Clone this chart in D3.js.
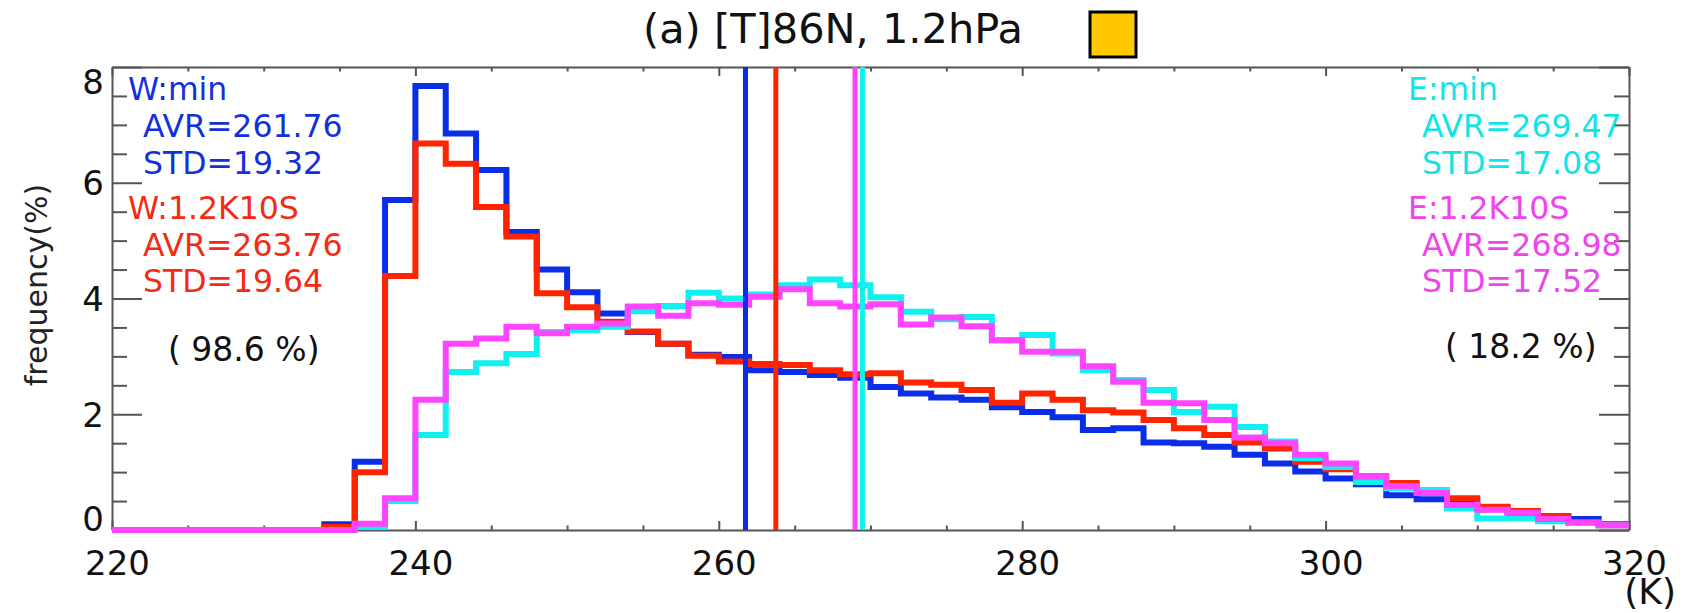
<!DOCTYPE html>
<html>
<head>
<meta charset="utf-8">
<script src="https://cdn.jsdelivr.net/npm/d3@7"></script>
<style>
  body { margin: 0; background: #fff; }
  svg { display: block; font-family: "DejaVu Sans", Verdana, sans-serif; }
</style>
</head>
<body>
<svg id="chart" width="1683" height="613"></svg>
<script>
// bin left edges (K), 2K wide
const binEdges = d3.range(220, 320, 2);

// frequency (%) per bin
const wMin = [0, 0, 0, 0, 0, 0, 0,
    0.10, 1.18, 5.70, 7.67, 6.85, 6.22, 5.15, 4.50, 4.11, 3.74, 3.42, 3.22, 3.03, 2.99,
    2.76, 2.73, 2.68, 2.63, 2.47, 2.36, 2.29, 2.25, 2.12, 2.04, 1.95, 1.73, 1.76, 1.51,
    1.50, 1.44, 1.30, 1.15, 1.01, 0.89, 0.79, 0.60, 0.53, 0.46, 0.36, 0.28, 0.22, 0.19, 0.10];
const w12 = [0, 0, 0, 0, 0, 0, 0,
    0.05, 1.00, 4.39, 6.68, 6.33, 5.58, 5.07, 4.09, 3.85, 3.60, 3.43, 3.22, 3.01, 2.91,
    2.87, 2.85, 2.76, 2.69, 2.71, 2.55, 2.51, 2.42, 2.20, 2.36, 2.25, 2.07, 2.03, 1.90,
    1.76, 1.64, 1.51, 1.41, 1.18, 1.05, 0.93, 0.81, 0.66, 0.55, 0.40, 0.33, 0.24, 0.14, 0.08];
const eMin = [0, 0, 0, 0, 0, 0, 0,
    0, 0.05, 0.50, 1.64, 2.73, 2.88, 3.04, 3.42, 3.45, 3.51, 3.78, 3.87, 4.10, 4.00,
    4.07, 4.23, 4.33, 4.23, 4.02, 3.77, 3.64, 3.68, 3.28, 3.37, 3.05, 2.76, 2.59, 2.42,
    2.04, 2.13, 1.78, 1.53, 1.24, 1.09, 0.83, 0.72, 0.69, 0.37, 0.20, 0.20, 0.15, 0.12, 0.08];
const e12 = [0, 0, 0, 0, 0, 0, 0,
    0, 0.11, 0.55, 2.25, 3.22, 3.31, 3.51, 3.40, 3.51, 3.57, 3.86, 3.70, 3.92, 3.89,
    4.03, 4.16, 3.92, 3.86, 3.90, 3.55, 3.67, 3.52, 3.28, 3.08, 3.08, 2.83, 2.56, 2.20,
    2.19, 1.90, 1.60, 1.50, 1.30, 1.15, 0.92, 0.76, 0.64, 0.43, 0.35, 0.30, 0.19, 0.13, 0.08];

const seriesNames = ["W:min", "W:1.2K10S", "E:min", "E:1.2K10S"];
const averages = [261.76, 263.76, 269.47, 268.98];
const stdevs = [19.32, 19.64, 17.08, 17.52];
const percents = ["( 98.6 %)", "( 18.2 %)"];

const xMajor = [220, 240, 260, 280, 300, 320];
const xMinor = d3.range(225, 320, 5).filter(v => v % 20 !== 0);
const yMajor = [0, 2, 4, 6, 8];
const yMinor = d3.range(0.5, 8, 0.5).filter(v => v % 2 !== 0);

const colors = ["#0a2ee8", "#ff2400", "#10f0f0", "#ff44ff"];
const textColors = ["#1230dc", "#f52a12", "#10e4e4", "#ee44ee"];

const svg = d3.select("#chart");
const plotL = 112, plotR = 1629, plotT = 67, plotB = 530;

const x = d3.scaleLinear().domain([220, 320]).range([plotL, plotR]);
const y = d3.scaleLinear().domain([0, 8]).range([plotB, plotT]);

const axisColor = "#555";
const yLen = 30, xLen = 9;

function styleAxis(g) {
    g.select(".domain").attr("stroke", axisColor).attr("stroke-width", 2);
    g.selectAll(".tick line").attr("stroke", axisColor).attr("stroke-width", 2);
}

// bottom axis
const gx = svg.append("g").attr("transform", `translate(0,${plotB})`)
    .call(d3.axisBottom(x).tickValues(xMajor).tickSize(-xLen).tickSizeOuter(0).tickFormat(d3.format("d")));
styleAxis(gx);
gx.selectAll(".tick text")
    .attr("y", 45).attr("dy", null).attr("dx", 5)
    .attr("fill", "#111").attr("font-size", 34).attr("font-family", "DejaVu Sans");
svg.append("g").attr("transform", `translate(0,${plotB})`)
    .call(d3.axisBottom(x).tickValues(xMinor).tickSize(-xLen / 2).tickSizeOuter(0).tickFormat(""))
    .call(styleAxis).select(".domain").remove();

// top axis
svg.append("g").attr("transform", `translate(0,${plotT})`)
    .call(d3.axisTop(x).tickValues(xMajor).tickSize(-xLen).tickSizeOuter(0).tickFormat(""))
    .call(styleAxis);
svg.append("g").attr("transform", `translate(0,${plotT})`)
    .call(d3.axisTop(x).tickValues(xMinor).tickSize(-xLen / 2).tickSizeOuter(0).tickFormat(""))
    .call(styleAxis).select(".domain").remove();

// left axis
const gy = svg.append("g").attr("transform", `translate(${plotL},0)`)
    .call(d3.axisLeft(y).tickValues(yMajor).tickSize(-yLen).tickSizeOuter(0).tickFormat(d3.format("d")));
styleAxis(gy);
gy.selectAll(".tick text")
    .attr("x", -8).attr("dy", null)
    .attr("y", d => d === 8 ? 26 : d === 0 ? 0 : 12)
    .attr("fill", "#111").attr("font-size", 34).attr("font-family", "DejaVu Sans");
svg.append("g").attr("transform", `translate(${plotL},0)`)
    .call(d3.axisLeft(y).tickValues(yMinor).tickSize(-yLen / 2).tickSizeOuter(0).tickFormat(""))
    .call(styleAxis).select(".domain").remove();

// right axis
svg.append("g").attr("transform", `translate(${plotR},0)`)
    .call(d3.axisRight(y).tickValues(yMajor).tickSize(-yLen).tickSizeOuter(0).tickFormat(""))
    .call(styleAxis);
svg.append("g").attr("transform", `translate(${plotR},0)`)
    .call(d3.axisRight(y).tickValues(yMinor).tickSize(-yLen / 2).tickSizeOuter(0).tickFormat(""))
    .call(styleAxis).select(".domain").remove();

// histograms
const step = d3.line().x(d => x(d[0])).y(d => y(d[1])).curve(d3.curveStepAfter);
[wMin, w12, eMin, e12].forEach((vals, i) => {
    const pts = binEdges.map((e, j) => [e, vals[j]]);
    pts.push([320, vals[vals.length - 1]]);
    svg.append("path")
        .attr("d", step(pts))
        .attr("fill", "none")
        .attr("stroke", colors[i])
        .attr("stroke-width", 6)
        .attr("stroke-linejoin", "miter");
});

// averages
svg.append("g").selectAll("line")
    .data(averages)
    .enter().append("line")
    .attr("x1", d => x(d)).attr("x2", d => x(d))
    .attr("y1", y(0)).attr("y2", y(8))
    .attr("stroke", (d, i) => colors[i])
    .attr("stroke-width", 5);

// stats text
const blockX = [[128, 143], [1408, 1422]];
const lineY = [100, 137, 174, 219, 256, 292];
seriesNames.forEach((name, i) => {
    const side = i < 2 ? 0 : 1;
    const row = (i % 2) * 3;
    const g = svg.append("g")
        .attr("fill", textColors[i])
        .attr("font-size", 31.5);
    g.append("text").attr("x", blockX[side][0]).attr("y", lineY[row]).text(name);
    g.append("text").attr("x", blockX[side][1]).attr("y", lineY[row + 1]).text(`AVR=${averages[i].toFixed(2)}`);
    g.append("text").attr("x", blockX[side][1]).attr("y", lineY[row + 2]).text(`STD=${stdevs[i].toFixed(2)}`);
});

svg.append("text").attr("x", 168).attr("y", 361)
    .attr("font-size", 33).attr("fill", "#111").text(percents[0]);
svg.append("text").attr("x", 1445).attr("y", 358)
    .attr("font-size", 33).attr("fill", "#111").text(percents[1]);

// title
svg.append("text").attr("x", 643).attr("y", 43)
    .attr("font-size", 41.5).attr("fill", "#111").text("(a) [T]86N, 1.2hPa");
svg.append("rect")
    .attr("x", 1090).attr("y", 12).attr("width", 46).attr("height", 45)
    .attr("fill", "#ffc800").attr("stroke", "#000").attr("stroke-width", 3);

// axis titles
svg.append("text")
    .attr("transform", `translate(47,285) rotate(-90)`)
    .attr("text-anchor", "middle")
    .attr("font-size", 30).attr("fill", "#222")
    .text("frequency(%)");
svg.append("text").attr("x", 1676).attr("y", 604)
    .attr("text-anchor", "end")
    .attr("font-size", 36).attr("fill", "#111").text("(K)");
</script>
</body>
</html>
